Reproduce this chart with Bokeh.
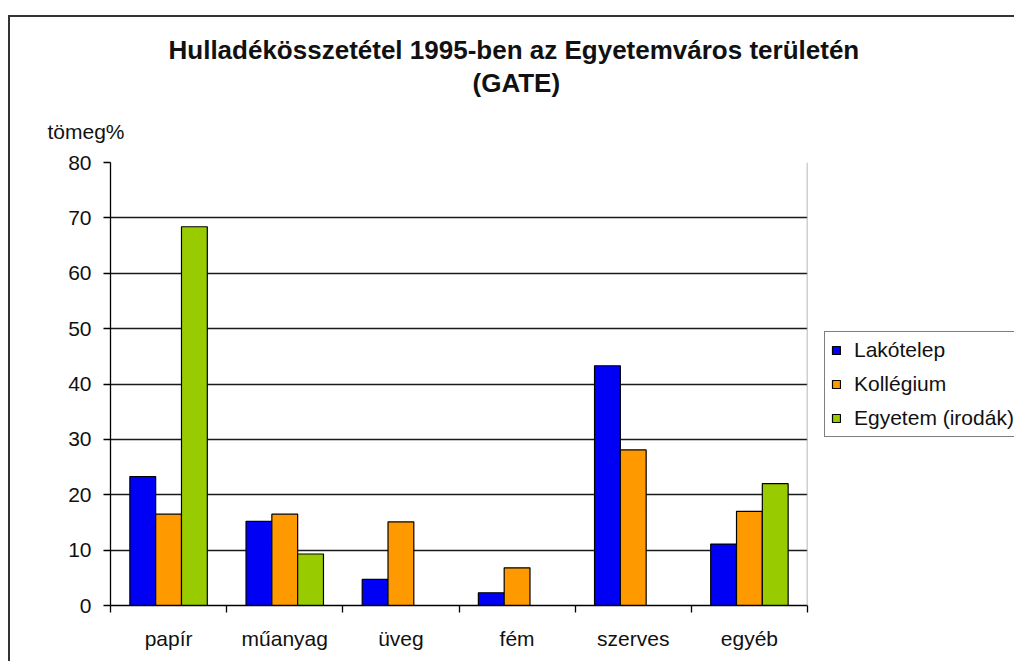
import numpy as np
from bokeh.plotting import figure
from bokeh.models import (ColumnDataSource, Range1d, FixedTicker, LinearAxis, Legend, LegendItem,
                          Title, Span, Grid)
from bokeh.transform import dodge
from bokeh.embed import file_html
from bokeh.resources import INLINE

# ---- data ----
categories = ["papír", "műanyag", "üveg", "fém", "szerves", "egyéb"]
series_names = ["Lakótelep", "Kollégium", "Egyetem (irodák)"]
lakotelep = [23.3, 15.2, 4.7, 2.3, 43.3, 11.1]
kollegium = [16.5, 16.5, 15.1, 6.8, 28.1, 17.0]
egyetem = [68.4, 9.3, 0.0, 0.0, 0.0, 22.0]
y_ticks = [0, 10, 20, 30, 40, 50, 60, 70, 80]
title_line1 = "Hulladékösszetétel 1995-ben az Egyetemváros területén"
title_line2 = "(GATE)"
y_unit_label = "tömeg%"

colors = ["#0000F5", "#FF9900", "#99CC00"]
FONT = "Liberation Sans"
TXT = "#111111"

n = len(categories)
centers = list(np.arange(n) + 0.5)
source = ColumnDataSource(dict(x=centers, cat=categories, s0=lakotelep, s1=kollegium, s2=egyetem))

p = figure(frame_width=697, frame_height=443, output_backend="svg", toolbar_location=None,
           x_range=Range1d(0, n), y_range=Range1d(0, 80),
           min_border_left=100, min_border_right=206, min_border_top=145, min_border_bottom=58,
           x_axis_type=None, y_axis_type=None, title=None)
p.margin = (17, 0, 0, 10)
p.styles = {"box-shadow": "-2px -2px 0 0 #333333"}
p.outline_line_color = None
p.background_fill_color = "white"
p.border_fill_color = "white"

# y axis
yaxis = LinearAxis(ticker=FixedTicker(ticks=y_ticks, minor_ticks=[]))
yaxis.axis_line_color = "black"
yaxis.axis_line_width = 1.3
yaxis.major_tick_line_color = "black"
yaxis.major_tick_line_width = 1.3
yaxis.major_tick_out = 7
yaxis.major_tick_in = 0
yaxis.minor_tick_line_color = None
yaxis.major_label_text_font = FONT
yaxis.major_label_text_font_size = "21px"
yaxis.major_label_text_color = TXT
yaxis.major_label_standoff = 12
p.add_layout(yaxis, "left")

# x axis: labels at category centres, ticks at category boundaries (minor ticks)
xaxis = LinearAxis(ticker=FixedTicker(ticks=centers, minor_ticks=list(range(n + 1))))
xaxis.major_label_overrides = {c: lab for c, lab in zip(centers, categories)}
xaxis.axis_line_color = "black"
xaxis.axis_line_width = 1.3
xaxis.major_tick_line_color = None
xaxis.major_tick_out = 7
xaxis.major_tick_in = 0
xaxis.minor_tick_line_color = "black"
xaxis.minor_tick_line_width = 1.3
xaxis.minor_tick_out = 7
xaxis.minor_tick_in = 0
xaxis.major_label_text_font = FONT
xaxis.major_label_text_font_size = "21px"
xaxis.major_label_text_color = TXT
xaxis.major_label_standoff = 14
p.add_layout(xaxis, "below")

# horizontal grid
p.add_layout(Grid(dimension=1, ticker=FixedTicker(ticks=y_ticks), grid_line_color="#1a1a1a",
                  grid_line_width=1.3))
p.add_layout(Span(location=n, dimension="height", line_color="#a0a0a0", line_width=1.5))

# bars
bw = 2.0 / 9.0
renderers = []
for k, (col, c) in enumerate(zip(["s0", "s1", "s2"], colors)):
    r = p.vbar(x=dodge("x", (k - 1) * bw, range=p.x_range), top=col, width=bw, bottom=0,
               source=source, fill_color=c, line_color="black", line_width=1.2)
    renderers.append(r)

# legend in right panel
legend = Legend(items=[LegendItem(label=s, renderers=[r]) for s, r in zip(series_names, renderers)],
                location=(17, 168))
legend.label_text_font = FONT
legend.label_text_font_size = "21px"
legend.label_text_color = TXT
legend.glyph_width = 10
legend.glyph_height = 10
legend.label_standoff = 13
legend.label_height = 21
legend.spacing = 10
legend.padding = 6
legend.margin = 0
legend.border_line_color = "black"
legend.border_line_width = 1.2
legend.background_fill_color = "white"
legend.background_fill_alpha = 1
p.add_layout(legend, "right")

# titles (first added sits closest to the plot area)
p.add_layout(Title(text=y_unit_label, align="left", offset=-63, text_font=FONT,
                   text_font_size="21px", text_font_style="normal", text_color=TXT, standoff=40), "above")
p.add_layout(Title(text=title_line2, align="left", offset=362, text_font=FONT,
                   text_font_size="26px", text_font_style="bold", text_color=TXT, standoff=0), "above")
p.add_layout(Title(text=title_line1, align="left", offset=58, text_font=FONT,
                   text_font_size="26px", text_font_style="bold", text_color=TXT, standoff=1), "above")

open("out.html", "w").write(file_html(p, INLINE))
